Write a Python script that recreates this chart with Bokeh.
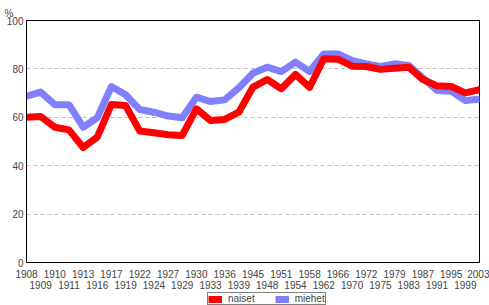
from bokeh.plotting import figure
from bokeh.models import (Range1d, FixedTicker, LinearAxis, Legend, LegendItem,
                          ColumnDataSource)
from bokeh.layouts import column
from bokeh.embed import file_html
from bokeh.resources import INLINE

years = ["1908", "1909", "1910", "1911", "1913", "1916", "1917", "1919", "1922",
         "1924", "1927", "1929", "1930", "1933", "1936", "1939", "1945", "1948",
         "1951", "1954", "1958", "1962", "1966", "1970", "1972", "1975", "1979",
         "1983", "1987", "1991", "1995", "1999", "2003"]
naiset = [60.0, 60.3, 55.9, 54.8, 47.5, 51.8, 65.3, 64.9, 54.3, 53.6, 52.8, 52.5,
          63.5, 58.7, 59.1, 62.1, 72.5, 75.6, 71.8, 77.7, 72.4, 84.2, 84.0, 81.1,
          81.0, 79.8, 80.3, 80.7, 75.6, 73.0, 72.7, 70.1, 71.4]
miehet = [68.7, 70.4, 65.2, 65.2, 55.9, 59.8, 72.7, 69.3, 63.2, 62.1, 60.5, 59.8,
          68.3, 66.5, 67.2, 72.2, 78.2, 80.7, 78.9, 82.8, 78.9, 86.2, 86.2, 83.5,
          82.1, 81.0, 82.1, 81.4, 76.3, 71.1, 70.8, 66.9, 67.6]
y_ticks = [0, 20, 40, 60, 80, 100]

idx = list(range(len(years)))
src = ColumnDataSource(dict(x=idx, naiset=naiset, miehet=miehet))

FONT = "Liberation Sans"
FS = "10px"
RED = "#FF0000"
BLUE = "#8080FF"

p = figure(width=489, height=292, output_backend="svg", toolbar_location=None,
           x_range=Range1d(0, len(years) - 1), y_range=Range1d(0, 100),
           min_border_left=26, min_border_right=10, min_border_top=20,
           min_border_bottom=30, x_axis_location=None, title="%")
p.title.align = "left"
p.title.offset = -22
p.title.text_font = FONT
p.title.text_font_size = FS
p.title.text_font_style = "normal"
p.title.standoff = 4
p.outline_line_color = "black"
p.outline_line_width = 1
p.background_fill_color = "white"
p.border_fill_color = "white"

# y axis
p.yaxis.ticker = FixedTicker(ticks=y_ticks)
p.yaxis.major_tick_line_color = None
p.yaxis.minor_tick_line_color = None
p.yaxis.major_tick_out = 0
p.yaxis.major_tick_in = 0
p.yaxis.axis_line_color = "black"
p.yaxis.major_label_text_font = FONT
p.yaxis.major_label_text_font_size = FS
p.yaxis.major_label_standoff = 3
p.xgrid.grid_line_color = None
p.ygrid.ticker = FixedTicker(ticks=[20, 40, 60, 80])
p.ygrid.grid_line_color = "#c0c0c0"
p.ygrid.grid_line_dash = "4 3"

# two-row x axis
even = [i for i in idx if i % 2 == 0]
odd = [i for i in idx if i % 2 == 1]
ax1 = LinearAxis(ticker=FixedTicker(ticks=even),
                 major_label_overrides={i: years[i] for i in even})
ax2 = LinearAxis(ticker=FixedTicker(ticks=odd),
                 major_label_overrides={i: years[i] for i in odd})
for ax, so in ((ax1, 7), (ax2, 0)):
    ax.major_tick_line_color = None
    ax.minor_tick_line_color = None
    ax.major_tick_out = 0
    ax.major_tick_in = 0
    ax.axis_line_color = None
    ax.major_label_text_font = FONT
    ax.major_label_text_font_size = FS
    ax.major_label_standoff = so
    p.add_layout(ax, "below")

p.line("x", "miehet", source=src, line_color=BLUE, line_width=7,
       line_join="round", line_cap="round")
p.line("x", "naiset", source=src, line_color=RED, line_width=7,
       line_join="round", line_cap="round")

# legend strip under the chart
lf = figure(width=489, height=13, output_backend="svg", toolbar_location=None,
            x_range=Range1d(0, len(years) - 1), y_range=Range1d(1000, 1001),
            min_border=0, x_axis_location=None, y_axis_location=None)
lf.outline_line_color = None
lf.grid.grid_line_color = None
ln = lf.line("x", "naiset", source=src, line_color=RED, line_width=7)
lm = lf.line("x", "miehet", source=src, line_color=BLUE, line_width=7)
legend = Legend(items=[LegendItem(label="naiset", renderers=[ln]),
                       LegendItem(label="miehet", renderers=[lm])],
                orientation="horizontal", location=(181, 0),
                border_line_color="black", border_line_width=1,
                background_fill_alpha=1, padding=0, margin=0, spacing=20,
                glyph_width=14, glyph_height=8, label_height=8,
                label_standoff=6, label_text_font=FONT, label_text_font_size=FS)
lf.add_layout(legend, "center")

layout = column(p, lf, spacing=0)
open("out.html", "w").write(file_html(layout, INLINE))
